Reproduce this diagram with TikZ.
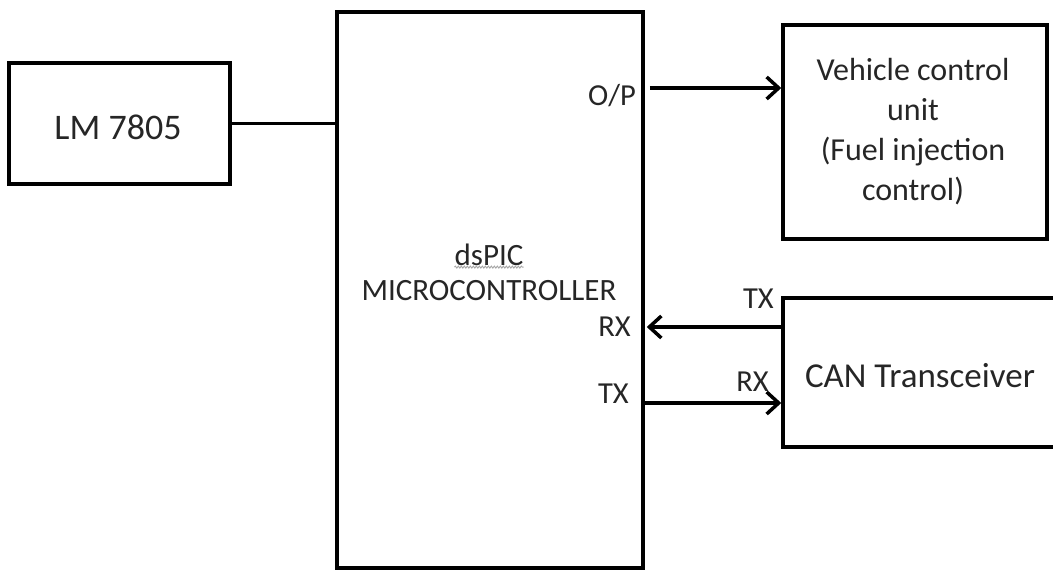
\documentclass[tikz,border=0pt]{standalone}
\usepackage{fontspec}
\setmainfont{Carlito}
\usetikzlibrary{arrows.meta,decorations.pathmorphing}
\begin{document}
\begin{tikzpicture}[x=1pt,y=-1pt,
  blk/.style={draw=black,line width=3.5pt,rectangle,inner sep=0pt,anchor=center},
  lbl/.style={font=\fontsize{30.5}{36}\selectfont,text=black!85,inner sep=0pt},
  conn/.style={line width=3.5pt},
  arr/.style={conn,-{Straight Barb[length=12pt,width=22pt,line width=3.5pt]}}]
\useasboundingbox (0,0) rectangle (1053,572);
\clip (0,0) rectangle (1053,572);
% blocks
\node[blk,minimum width=221pt,minimum height=121pt] (lm) at (119.5,123.5) {};
\node[lbl,font=\fontsize{36}{40}\selectfont] (lmt) at (118,127) {LM 7805};
\node[blk,minimum width=306pt,minimum height=556pt] (mc) at (490,290) {};
\node[lbl,font=\fontsize{31}{36}\selectfont] (dspic) at (489,255) {dsPIC};
\node[lbl,font=\fontsize{31}{36}\selectfont] (mct) at (489,291) {MICROCONTROLLER};
\node[blk,minimum width=264pt,minimum height=214pt] (vcu) at (915,132) {};
\node[lbl,align=center,font=\fontsize{32}{40}\selectfont] (vcut) at (913,132) {Vehicle control\\unit\\(Fuel injection\\control)};
\node[blk,minimum width=280pt,minimum height=149pt] (can) at (923,372.5) {};
\node[lbl,font=\fontsize{35}{40}\selectfont] (cant) at (920,376) {CAN Transceiver};
% wavy underline
\draw[gray!70,line width=0.9pt,decorate,decoration={snake,amplitude=1pt,segment length=3pt}]
  ([yshift=-1pt]dspic.south west) -- ([yshift=-1pt]dspic.south east);
% pin labels
\node[lbl,anchor=east] (op) at (636,96) {O/P};
\node[lbl,anchor=east] (rxm) at (631,327) {RX};
\node[lbl,anchor=east] (txm) at (629,394) {TX};
\node[lbl,anchor=east] (txc) at (774,299) {TX};
\node[lbl,anchor=east] (rxc) at (769,382) {RX};
% connector coordinates
\coordinate (yop) at (0,88);
\coordinate (yrx) at (0,327);
\coordinate (ytx) at (0,403);
% connectors
\draw[conn] (lm.east) -- (lm.east -| mc.west);
\draw[arr] ([xshift=5pt]mc.east |- yop) -- (vcu.west |- yop);
\draw[arr] (can.west |- yrx) -- ([xshift=2pt]mc.east |- yrx);
\draw[arr] (mc.east |- ytx) -- (can.west |- ytx);
\end{tikzpicture}
\end{document}
